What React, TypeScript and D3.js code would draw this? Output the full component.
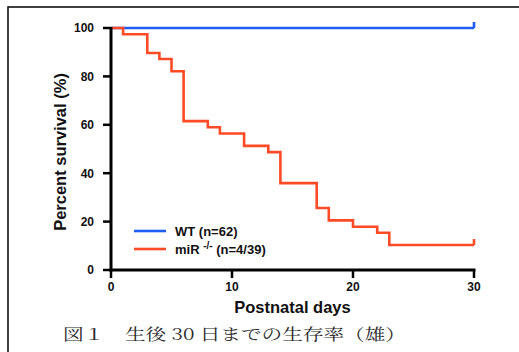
import React from "react";
import * as d3 from "d3";

// Kaplan–Meier survival, postnatal days 0–30
const wtDays = [0, 30];
const wtSurvival = [100, 100];

const mirDays = [0, 1, 3, 4, 5, 6, 8, 9, 11, 13, 14, 17, 18, 20, 22, 23, 30];
const mirSurvival = [
  100, 97.4, 89.7, 87.2, 82.1, 61.5, 59.0, 56.4, 51.3, 48.7, 35.9, 25.6, 20.5,
  17.9, 15.4, 10.3, 10.3,
];

const xTicks = [0, 10, 20, 30];
const yTicks = [0, 20, 40, 60, 80, 100];

const WIDTH = 519;
const HEIGHT = 352;
const BLUE = "#1f5ef5";
const RED = "#ff4a26";
const SANS = "Arial, 'Liberation Sans', Helvetica, sans-serif";

export default function App() {
  const x = d3.scaleLinear().domain([0, 30]).range([111, 474]);
  const y = d3.scaleLinear().domain([0, 100]).range([270, 28]);

  const step = d3
    .line<[number, number]>()
    .x((d) => x(d[0]))
    .y((d) => y(d[1]))
    .curve(d3.curveStepAfter);

  const wtPts = wtDays.map((d, i) => [d, wtSurvival[i]] as [number, number]);
  const mirPts = mirDays.map((d, i) => [d, mirSurvival[i]] as [number, number]);

  // censoring tick at the last follow-up day
  const censor = (pts: [number, number][], color: string) => {
    const [d, s] = pts[pts.length - 1];
    return (
      <line
        x1={x(d)}
        x2={x(d)}
        y1={y(s)}
        y2={y(s) - 6}
        stroke={color}
        strokeWidth={2.6}
      />
    );
  };

  return (
    <svg
      width={WIDTH}
      height={HEIGHT}
      style={{ position: "absolute", left: 0, top: 0, background: "#fff" }}
    >
      <rect x={8} y={7} width={600} height={400} fill="none" stroke="#111" strokeWidth={1.6} />

      {/* survival curves */}
      <path d={step(wtPts) ?? ""} fill="none" stroke={BLUE} strokeWidth={2.6} />
      {censor(wtPts, BLUE)}
      <path d={step(mirPts) ?? ""} fill="none" stroke={RED} strokeWidth={2.6} />
      {censor(mirPts, RED)}

      {/* y axis */}
      <line x1={x(0)} x2={x(0)} y1={y(0) + 1.5} y2={y(100) - 1} stroke="#000" strokeWidth={3} />
      {yTicks.map((t) => (
        <g key={"y" + t}>
          <line x1={x(0) - 8} x2={x(0)} y1={y(t)} y2={y(t)} stroke="#000" strokeWidth={2.5} />
          <text
            x={x(0) - 17}
            y={y(t)}
            dy="0.36em"
            textAnchor="end"
            fontFamily={SANS}
            fontWeight="bold"
            fontSize={12}
            fill="#111"
          >
            {t}
          </text>
        </g>
      ))}

      {/* x axis */}
      <line x1={x(0) - 1.5} x2={x(30) + 1.5} y1={y(0)} y2={y(0)} stroke="#000" strokeWidth={3} />
      {xTicks.map((t) => (
        <g key={"x" + t}>
          <line x1={x(t)} x2={x(t)} y1={y(0)} y2={y(0) + 8} stroke="#000" strokeWidth={2.5} />
          <text
            x={x(t)}
            y={y(0) + 21}
            textAnchor="middle"
            fontFamily={SANS}
            fontWeight="bold"
            fontSize={12}
            fill="#111"
          >
            {t}
          </text>
        </g>
      ))}

      {/* axis titles */}
      <text
        transform={`translate(66,${(y(0) + y(100)) / 2 + 3}) rotate(-90)`}
        textAnchor="middle"
        fontFamily={SANS}
        fontWeight="bold"
        fontSize={16.5}
        fill="#111"
      >
        Percent survival (%)
      </text>
      <text
        x={(x(0) + x(30)) / 2}
        y={313}
        textAnchor="middle"
        fontFamily={SANS}
        fontWeight="bold"
        fontSize={16.5}
        fill="#111"
      >
        Postnatal days
      </text>

      {/* legend */}
      <line x1={134} x2={166} y1={231} y2={231} stroke={BLUE} strokeWidth={2.6} />
      <text x={175} y={235.5} fontFamily={SANS} fontWeight="bold" fontSize={13} fill="#111">
        WT (n=62)
      </text>
      <line x1={134} x2={166} y1={249} y2={249} stroke={RED} strokeWidth={2.6} />
      <text x={175} y={253.5} fontFamily={SANS} fontWeight="bold" fontSize={13} fill="#111">
        miR{" "}
        <tspan fontSize={10} dy={-5}>
          -/-
        </tspan>
        <tspan dy={5}> (n=4/39)</tspan>
      </text>

      {/* caption */}
      <text
        transform="translate(63,340) scale(1.29,1)"
        fontFamily="'Noto Serif CJK JP', 'Liberation Serif', 'DejaVu Serif', 'Noto Sans CJK JP', serif"
        fontSize={16}
        fill="#2a2a2a"
      >
        図１　生後 30 日までの生存率（雄）
      </text>
    </svg>
  );
}
